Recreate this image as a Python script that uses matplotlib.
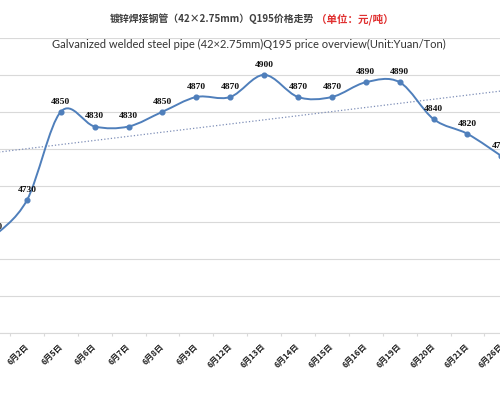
import numpy as np
import matplotlib
matplotlib.use('Agg')
import matplotlib.pyplot as plt
from matplotlib.path import Path
from matplotlib.patches import PathPatch

dates = ['6月1日', '6月2日', '6月5日', '6月6日', '6月7日', '6月8日', '6月9日',
         '6月12日', '6月13日', '6月14日', '6月15日', '6月16日', '6月19日',
         '6月20日', '6月21日', '6月26日']
prices = [4680, 4730, 4850, 4830, 4830, 4850, 4870, 4870, 4900, 4870, 4870,
          4890, 4890, 4840, 4820, 4790]

title_cn = '镀锌焊接钢管（42×2.75mm）Q195价格走势'
title_unit = '（单位：元/吨）'
title_en = 'Galvanized welded steel pipe (42×2.75mm)Q195 price overview(Unit:Yuan/Ton)'

blue = '#4f7fbb'
x = np.arange(len(prices))
y = np.array(prices, dtype=float)
x0, x1 = 0.206, 14.96

fig = plt.figure(figsize=(5, 4), dpi=100)
ax = fig.add_axes([0, 0.1675, 1, 0.7375])

# grid
ax.set_yticks(np.arange(4550, 4951, 50))
ax.yaxis.grid(True, color='#d9d9d9', lw=0.8)
ax.set_axisbelow(True)
ax.tick_params(axis='y', left=False, labelleft=False)
for s in ['left', 'right', 'top']:
    ax.spines[s].set_visible(False)
ax.spines['bottom'].set_color('#d9d9d9')
ax.spines['bottom'].set_linewidth(0.8)

ax.set_xticks(x + 0.5)
ax.tick_params(axis='x', length=2.5, color='#d9d9d9', labelbottom=False)
ax.set_xlim(x0, x1)
ax.set_ylim(4550, 4950)

# smoothed line (catmull-rom style bezier like excel)
pts = np.column_stack([x, y])
verts = [pts[0]]
codes = [Path.MOVETO]
n = len(pts)
for i in range(n - 1):
    p0 = pts[max(i - 1, 0)]
    p1 = pts[i]
    p2 = pts[i + 1]
    p3 = pts[min(i + 2, n - 1)]
    c1 = p1 + (p2 - p0) / 6
    c2 = p2 - (p3 - p1) / 6
    verts += [c1, c2, p2]
    codes += [Path.CURVE4] * 3
ax.add_patch(PathPatch(Path(verts, codes), fill=False, ec=blue, lw=1.4, zorder=3))
ax.plot(x, y, 'o', color=blue, ms=3.4, zorder=4)

# linear trend
k, b = np.polyfit(x, y, 1)
xt = np.array([-1, len(x)])
ax.plot(xt, k * xt + b, ':', color='#7f8fb8', lw=0.9, zorder=2)
ax.set_xlim(x0, x1)

for xi, yi in zip(x, prices):
    ax.annotate(str(yi), (xi, yi), xytext=(0, 7.2), textcoords='offset points',
                ha='center', va='center', fontsize=6.8, fontweight='bold',
                family='Liberation Serif', color='#111111',
                annotation_clip=False, clip_on=True, zorder=5)

for xi, d in zip(x, dates):
    if xi < x0:
        continue
    ax.text(xi + 0.1, 4538, d, rotation=45, ha='right', va='top', fontsize=5.9,
            fontweight='bold', family=['Noto Sans CJK SC', 'DejaVu Sans'],
            color='#222222', clip_on=False)

fig.text(0.628, 0.953, title_cn, ha='right', va='center', fontsize=7.1,
         fontweight='bold', family=['Noto Sans CJK SC', 'DejaVu Sans'], color='#404040')
fig.text(0.632, 0.953, title_unit, ha='left', va='center', fontsize=7.6,
         fontweight='bold', family=['Noto Sans CJK SC', 'DejaVu Sans'], color='#e03030')
fig.text(0.497, 0.889, title_en, ha='center', va='center', fontsize=8.0,
         family='Lato', color='#333333')

fig.savefig('out.png', dpi=100, facecolor='white')
